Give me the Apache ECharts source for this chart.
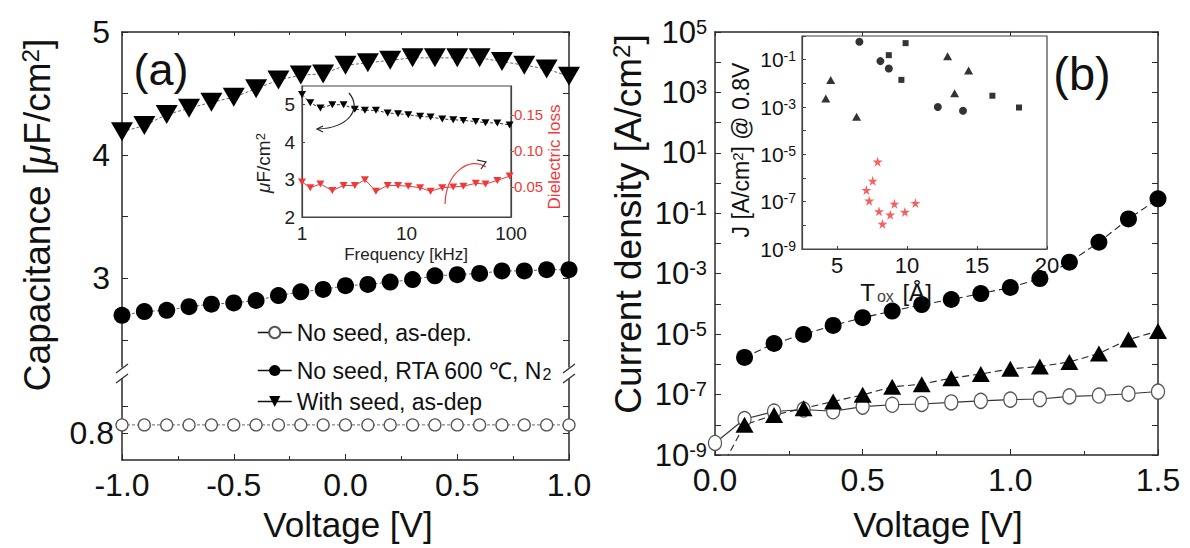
<!DOCTYPE html>
<html><head><meta charset="utf-8">
<script src="https://cdn.jsdelivr.net/npm/echarts@6/dist/echarts.min.js"></script>
<style>html,body{margin:0;padding:0;background:#fff}#c{width:1190px;height:548px}</style>
</head><body><div id="c"></div>
<script>
// ---------- data: panel (a) capacitance vs voltage ----------
const voltageA = [-1.0,-0.9,-0.8,-0.7,-0.6,-0.5,-0.4,-0.3,-0.2,-0.1,0.0,0.1,0.2,0.3,0.4,0.5,0.6,0.7,0.8,0.9,1.0];
const capWithSeed = [4.19,4.24,4.33,4.38,4.43,4.47,4.54,4.61,4.65,4.66,4.73,4.75,4.77,4.79,4.79,4.79,4.79,4.76,4.73,4.70,4.64];
const capRTA = [2.70,2.73,2.74,2.77,2.79,2.80,2.82,2.86,2.89,2.91,2.94,2.95,2.97,2.99,3.02,3.03,3.04,3.06,3.06,3.07,3.07];
const capAsDep = [0.815,0.815,0.815,0.815,0.815,0.815,0.815,0.815,0.815,0.815,0.815,0.815,0.815,0.815,0.815,0.815,0.815,0.815,0.815,0.815,0.815];
const capLabelsA = [3,4,5];
const capLabelsLow = [0.8];
const voltLabelsA = [-1.0,-0.5,0.0,0.5,1.0];

// ---------- data: inset (a) frequency dependence ----------
const freqKHz = [1,1.2,1.5,1.95,2.5,3.2,4,5.1,6.6,8.3,10.4,13.5,17,22,28,35,46,57,74,97];
const capFreq = [5.27,5.05,4.91,5.0,5.0,4.88,4.85,4.85,4.78,4.76,4.73,4.69,4.67,4.62,4.6,4.58,4.55,4.52,4.51,4.46];
const lossFreq = [0.057,0.049,0.054,0.045,0.052,0.052,0.060,0.044,0.052,0.052,0.051,0.049,0.044,0.049,0.050,0.051,0.055,0.054,0.059,0.065];
const insetACapLabels = [2,3,4,5];
const insetALossLabels = [0.05,0.10,0.15];

// ---------- data: panel (b) current density vs voltage ----------
const voltageB = [0.0,0.1,0.2,0.3,0.4,0.5,0.6,0.7,0.8,0.9,1.0,1.1,1.2,1.3,1.4,1.5];
const jRTA = [null,1.7e-6,4.9e-6,9.8e-6,1.95e-5,3.5e-5,5.8e-5,9.5e-5,1.4e-4,2.2e-4,3.5e-4,6.9e-4,2.4e-3,1.1e-2,6.5e-2,0.30];
const jWithSeed = [1.5e-10,1.0e-8,2.1e-8,3.5e-8,5.9e-8,9.8e-8,1.8e-7,2.2e-7,3.5e-7,4.8e-7,7.1e-7,8.5e-7,1.2e-6,2.3e-6,6.6e-6,1.26e-5];
const jAsDep = [2.5e-9,1.55e-8,2.75e-8,3.2e-8,2.8e-8,4.0e-8,4.6e-8,4.9e-8,5.5e-8,6.2e-8,6.8e-8,7.1e-8,8.7e-8,9.3e-8,1.07e-7,1.26e-7];
const jLabelsB = [1e-9,1e-7,1e-5,1e-3,1e-1,1e1,1e3,1e5];
const jTicksB = [1e-9,1e-8,1e-7,1e-6,1e-5,1e-4,1e-3,1e-2,1e-1,1,1e1,1e2,1e3,1e4,1e5];
const voltLabelsB = [0.0,0.5,1.0,1.5];

// ---------- data: inset (b) J @ 0.8V vs Tox ----------
const toxCircle = [6.6,8.1,8.7,12.2,14.0];
const jCircle = [0.57,0.087,0.042,1.0e-3,6.9e-4];
const toxSquare = [9.9,8.7,9.6,16.1,18.0];
const jSquare = [0.5,0.155,0.014,3.0e-3,9.5e-4];
const toxTri = [4.2,4.55,6.4,12.9,14.4,13.4];
const jTri = [2.3e-3,0.014,3.9e-4,0.14,0.035,3.8e-3];
const toxStar = [7.9,7.55,7.1,7.3,8.0,8.25,8.8,9.1,9.85,10.6];
const jStar = [4.9e-6,7.6e-7,3.1e-7,1.1e-7,3.9e-8,1.15e-8,2.8e-8,8.1e-8,3.7e-8,8.7e-8];
const insetBJLabels = [1e-9,1e-7,1e-5,1e-3,1e-1];
const insetBJTicks = [1e-9,1e-8,1e-7,1e-6,1e-5,1e-4,1e-3,1e-2,1e-1,1];
const insetBToxLabels = [5,10,15,20];

// ---------- build ----------
const FONT = "'Liberation Sans', Arial, Helvetica, sans-serif";
const AX = '#2a2a2a';
const RED = '#f03a3a';
const zip = (xs, ys) => xs.map((x, i) => [x, ys[i]]);
const expOf = v => Math.round(Math.log10(v));
const axLine = {show: true, onZero: false, lineStyle: {color: AX, width: 1.5}};
const inLine = {show: true, onZero: false, lineStyle: {color: '#444', width: 1.2}};
const noSplit = {show: false};
const STAR = 'path://M50,0 L61,35 L98,35 L68,57 L79,91 L50,70 L21,91 L32,57 L2,35 L39,35 Z';

const bigSup = {
  b: {fontSize: 31, lineHeight: 31, fontFamily: FONT, color: '#111', padding: [10, 0, 0, 0], verticalAlign: 'bottom'},
  s: {fontSize: 20, lineHeight: 20, fontFamily: FONT, color: '#111', verticalAlign: 'top'}
};
const smallSup = {
  b: {fontSize: 21, lineHeight: 21, fontFamily: FONT, color: '#111', padding: [6, 0, 0, 0], verticalAlign: 'bottom'},
  s: {fontSize: 14, lineHeight: 14, fontFamily: FONT, color: '#111', verticalAlign: 'top'}
};

const option = {
  animation: false,
  backgroundColor: '#fff',
  grid: [
    {left: 122, top: 32, width: 447, height: 335, outerBoundsMode: 'none'},
    {left: 122, top: 379, width: 447, height: 81, outerBoundsMode: 'none'},
    {left: 715, top: 32, width: 443, height: 423, outerBoundsMode: 'none'},
    {left: 302, top: 86, width: 209, height: 131, show: true, borderColor: '#444', borderWidth: 1.2, backgroundColor: 'rgba(0,0,0,0)', outerBoundsMode: 'none'},
    {left: 802, top: 36, width: 245, height: 213, show: true, borderColor: '#444', borderWidth: 1.2, backgroundColor: 'rgba(0,0,0,0)', outerBoundsMode: 'none'}
  ],
  xAxis: [
    {gridIndex: 0, type: 'value', min: -1, max: 1, interval: 0.5, position: 'top',
     axisLine: axLine, axisTick: {show: true, inside: true, length: 4, lineStyle: {color: AX}},
     minorTick: {show: true, splitNumber: 2, length: 3, lineStyle: {color: AX}},
     axisLabel: {show: false}, splitLine: noSplit, minorSplitLine: noSplit},
    {gridIndex: 1, type: 'value', min: -1, max: 1, interval: 0.5, position: 'bottom',
     axisLine: axLine, axisTick: {show: true, inside: true, length: 6, lineStyle: {color: AX}},
     minorTick: {show: true, splitNumber: 2, length: 4, lineStyle: {color: AX}},
     axisLabel: {fontSize: 32, fontFamily: FONT, color: '#111', margin: 9,
       customValues: voltLabelsA, formatter: v => v.toFixed(1)},
     splitLine: noSplit},
    {gridIndex: 2, type: 'value', min: 0, max: 1.5, interval: 0.5, position: 'bottom',
     axisLine: axLine, axisTick: {show: true, inside: true, length: 6, lineStyle: {color: AX}},
     minorTick: {show: true, splitNumber: 2, length: 4, lineStyle: {color: AX}},
     axisLabel: {fontSize: 32, fontFamily: FONT, color: '#111', margin: 9,
       customValues: voltLabelsB, formatter: v => v.toFixed(1)},
     splitLine: noSplit},
    {gridIndex: 2, type: 'value', min: 0, max: 1.5, interval: 0.5, position: 'top',
     axisLine: axLine, axisTick: {show: true, inside: true, length: 4, lineStyle: {color: AX}},
     axisLabel: {show: false}, splitLine: noSplit},
    {gridIndex: 3, type: 'log', logBase: 10, min: 1, max: 100, position: 'bottom',
     axisLine: inLine, axisTick: {show: false},
     axisLabel: {fontSize: 19, fontFamily: FONT, color: '#222', margin: 7}, splitLine: noSplit},
    {gridIndex: 4, type: 'value', min: 2.5, max: 20, position: 'bottom',
     axisLine: inLine,
     axisTick: {show: true, inside: true, length: 3, customValues: insetBToxLabels, lineStyle: {color: '#444'}},
     axisLabel: {fontSize: 22, fontFamily: FONT, color: '#111', margin: 5, customValues: insetBToxLabels},
     splitLine: noSplit}
  ],
  yAxis: [
    {gridIndex: 0, type: 'value', min: 2.28, max: 5, position: 'left',
     axisLine: axLine, axisTick: {show: true, inside: true, length: 6, customValues: [2.5,3,3.5,4,4.5,5], lineStyle: {color: AX}},
     axisLabel: {fontSize: 32, fontFamily: FONT, color: '#111', margin: 12, customValues: capLabelsA},
     splitLine: noSplit},
    {gridIndex: 0, type: 'value', min: 2.28, max: 5, position: 'right',
     axisLine: axLine, axisTick: {show: true, inside: true, length: 6, customValues: [2.5,3,3.5,4,4.5,5], lineStyle: {color: AX}},
     axisLabel: {show: false}, splitLine: noSplit},
    {gridIndex: 1, type: 'value', min: 0.75, max: 0.9, position: 'left',
     axisLine: axLine, axisTick: {show: true, inside: true, length: 6, customValues: [0.8, 0.85], lineStyle: {color: AX}},
     axisLabel: {fontSize: 32, fontFamily: FONT, color: '#111', margin: 8, customValues: capLabelsLow, formatter: v => v.toFixed(1)},
     splitLine: noSplit},
    {gridIndex: 1, type: 'value', min: 0.75, max: 0.9, position: 'right',
     axisLine: axLine, axisTick: {show: true, inside: true, length: 6, customValues: [0.8, 0.85], lineStyle: {color: AX}},
     axisLabel: {show: false}, splitLine: noSplit},
    {gridIndex: 2, type: 'log', logBase: 10, min: 1e-9, max: 1e5, position: 'left',
     axisLine: axLine, axisTick: {show: true, inside: true, length: 6, customValues: jTicksB, lineStyle: {color: AX}},
     axisLabel: {margin: 8, customValues: jLabelsB, formatter: v => '{b|10}{s|' + expOf(v) + '}', rich: bigSup},
     splitLine: noSplit},
    {gridIndex: 2, type: 'log', logBase: 10, min: 1e-9, max: 1e5, position: 'right',
     axisLine: axLine, axisTick: {show: true, inside: true, length: 6, customValues: jTicksB, lineStyle: {color: AX}},
     axisLabel: {show: false}, splitLine: noSplit},
    {gridIndex: 3, type: 'value', min: 2, max: 5.5, position: 'left',
     axisLine: inLine,
     axisTick: {show: true, inside: true, length: 3, customValues: insetACapLabels, lineStyle: {color: '#444'}},
     axisLabel: {fontSize: 19, fontFamily: FONT, color: '#222', margin: 7, customValues: insetACapLabels},
     splitLine: noSplit},
    {gridIndex: 3, type: 'value', min: 0.0083, max: 0.19, position: 'right',
     axisLine: inLine,
     axisTick: {show: true, inside: false, length: 3, customValues: insetALossLabels, lineStyle: {color: RED}},
     axisLabel: {fontSize: 15, fontFamily: FONT, color: RED, margin: 3, customValues: insetALossLabels, formatter: v => v.toFixed(2)},
     splitLine: noSplit},
    {gridIndex: 4, type: 'log', logBase: 10, min: 1e-9, max: 1, position: 'left',
     axisLine: inLine,
     axisTick: {show: true, inside: true, length: 4, customValues: insetBJTicks, lineStyle: {color: '#444'}},
     axisLabel: {margin: 6, customValues: insetBJLabels, formatter: v => '{b|10}{s|' + expOf(v) + '}', rich: smallSup},
     splitLine: noSplit}
  ],
  legend: {
    orient: 'vertical', left: 252, top: 316, itemWidth: 34, itemHeight: 14, itemGap: 8,
    selectedMode: false,
    data: ['No seed, as-dep.', 'No seed, RTA 600 ℃, N2', 'With seed, as-dep'],
    formatter: name => name.replace('N2', 'N{sub|2}'),
    lineStyle: {type: 'solid', color: '#111', width: 1.5},
    textStyle: {fontSize: 23, fontFamily: FONT, color: '#111',
      rich: {sub: {fontSize: 16, lineHeight: 16, fontFamily: FONT, color: '#111', padding: [14, 0, 0, 0], verticalAlign: 'bottom'}}}
  },
  series: [
    {name: 'No seed, as-dep.', type: 'line', xAxisIndex: 1, yAxisIndex: 2, data: zip(voltageA, capAsDep),
     symbol: 'circle', symbolSize: 12, itemStyle: {color: '#fff', borderColor: '#555', borderWidth: 1.3},
     lineStyle: {color: '#666', width: 1, type: [3, 2]}, z: 3},
    {name: 'No seed, RTA 600 ℃, N2', type: 'line', xAxisIndex: 0, yAxisIndex: 0, data: zip(voltageA, capRTA),
     symbol: 'circle', symbolSize: 17, itemStyle: {color: '#000'},
     lineStyle: {color: '#666', width: 1, type: [3, 2]}, z: 3},
    {name: 'With seed, as-dep', type: 'line', xAxisIndex: 0, yAxisIndex: 0, data: zip(voltageA, capWithSeed),
     symbol: 'triangle', symbolRotate: 180, symbolSize: [22, 19], itemStyle: {color: '#000'},
     lineStyle: {color: '#666', width: 1, type: [3, 2]}, z: 3},

    {name: 'J as-dep', type: 'line', xAxisIndex: 2, yAxisIndex: 4, data: zip(voltageB, jAsDep),
     symbol: 'circle', symbolSize: [13, 15], itemStyle: {color: '#fff', borderColor: '#555', borderWidth: 1.3},
     lineStyle: {color: '#333', width: 1.1}, z: 3},
    {name: 'J with seed', type: 'line', xAxisIndex: 2, yAxisIndex: 4, data: zip(voltageB, jWithSeed),
     symbol: 'triangle', symbolSize: [18, 16], itemStyle: {color: '#000'},
     lineStyle: {color: '#222', width: 1.1, type: [7, 4]}, z: 3},
    {name: 'J RTA', type: 'line', xAxisIndex: 2, yAxisIndex: 4, data: zip(voltageB, jRTA),
     symbol: 'circle', symbolSize: 17, itemStyle: {color: '#000'},
     lineStyle: {color: '#222', width: 1.1, type: [7, 4]}, z: 3},

    {name: 'C(f)', type: 'line', xAxisIndex: 4, yAxisIndex: 6, data: zip(freqKHz, capFreq),
     symbol: 'triangle', symbolRotate: 180, symbolSize: [8, 7], itemStyle: {color: '#000'},
     lineStyle: {color: '#333', width: 1, type: [3, 2]}, z: 4},
    {name: 'loss(f)', type: 'line', xAxisIndex: 4, yAxisIndex: 7, data: zip(freqKHz, lossFreq),
     symbol: 'triangle', symbolRotate: 180, symbolSize: [8, 7], itemStyle: {color: RED},
     lineStyle: {color: RED, width: 1}, z: 4},

    {name: 'ref circles', type: 'scatter', xAxisIndex: 5, yAxisIndex: 8, data: zip(toxCircle, jCircle),
     symbol: 'circle', symbolSize: 8, itemStyle: {color: '#000'}, z: 4},
    {name: 'ref squares', type: 'scatter', xAxisIndex: 5, yAxisIndex: 8, data: zip(toxSquare, jSquare),
     symbol: 'rect', symbolSize: 6, itemStyle: {color: '#000'}, z: 4},
    {name: 'ref triangles', type: 'scatter', xAxisIndex: 5, yAxisIndex: 8, data: zip(toxTri, jTri),
     symbol: 'triangle', symbolSize: [9, 8], itemStyle: {color: '#000'}, z: 4},
    {name: 'this work', type: 'scatter', xAxisIndex: 5, yAxisIndex: 8, data: zip(toxStar, jStar),
     symbol: STAR, symbolSize: 10, itemStyle: {color: RED}, z: 4}
  ],
  graphic: [
    {type: 'text', x: 37, y: 215, rotation: Math.PI / 2, z: 10,
     style: {text: 'Capacitance [{mu|μ}F/cm{sup|2}]', fontSize: 37, fontFamily: FONT, fill: '#111', align: 'center', verticalAlign: 'middle',
       rich: {mu: {fontSize: 37, fontFamily: FONT, fontStyle: 'italic', fill: '#111'},
              sup: {fontSize: 24, fontFamily: FONT, fill: '#111', verticalAlign: 'top', lineHeight: 24}}}},
    {type: 'text', x: 628, y: 224, rotation: Math.PI / 2, z: 10,
     style: {text: 'Current density [A/cm{sup|2}]', fontSize: 37, fontFamily: FONT, fill: '#111', align: 'center', verticalAlign: 'middle',
       rich: {sup: {fontSize: 24, fontFamily: FONT, fill: '#111', verticalAlign: 'top', lineHeight: 24}}}},
    {type: 'text', x: 348, y: 524, z: 10,
     style: {text: 'Voltage [V]', fontSize: 35, fontFamily: FONT, fill: '#111', align: 'center', verticalAlign: 'middle'}},
    {type: 'text', x: 938, y: 524, z: 10,
     style: {text: 'Voltage [V]', fontSize: 35, fontFamily: FONT, fill: '#111', align: 'center', verticalAlign: 'middle'}},
    {type: 'text', x: 161, y: 69, z: 10,
     style: {text: '(a)', fontSize: 45, fontFamily: FONT, fill: '#111', align: 'center', verticalAlign: 'middle'}},
    {type: 'text', x: 1082, y: 73, z: 10,
     style: {text: '(b)', fontSize: 47, fontFamily: FONT, fill: '#111', align: 'center', verticalAlign: 'middle'}},
    {type: 'text', x: 406, y: 254, z: 10,
     style: {text: 'Frequency [kHz]', fontSize: 17, fontFamily: FONT, fill: '#222', align: 'center', verticalAlign: 'middle'}},
    {type: 'text', x: 263, y: 163, rotation: Math.PI / 2, z: 10,
     style: {text: '{mu|μ}F/cm{sup|2}', fontSize: 19, fontFamily: FONT, fill: '#222', align: 'center', verticalAlign: 'middle',
       rich: {mu: {fontSize: 19, fontFamily: FONT, fontStyle: 'italic', fill: '#222'},
              sup: {fontSize: 13, fontFamily: FONT, fill: '#222', verticalAlign: 'top', lineHeight: 13}}}},
    {type: 'text', x: 554, y: 157, rotation: Math.PI / 2, z: 10,
     style: {text: 'Dielectric loss', fontSize: 17, fontFamily: FONT, fill: RED, align: 'center', verticalAlign: 'middle'}},
    {type: 'text', x: 741, y: 150, rotation: Math.PI / 2, z: 10,
     style: {text: 'J [A/cm{sup|2}] @ 0.8V', fontSize: 23, fontFamily: FONT, fill: '#111', align: 'center', verticalAlign: 'middle',
       rich: {sup: {fontSize: 15, fontFamily: FONT, fill: '#111', verticalAlign: 'top', lineHeight: 15}}}},
    {type: 'text', x: 896, y: 292, z: 10,
     style: {text: 'T{sub|ox} [Å]', fontSize: 24, fontFamily: FONT, fill: '#111', align: 'center', verticalAlign: 'middle',
       rich: {sub: {fontSize: 16, fontFamily: FONT, fill: '#444', verticalAlign: 'bottom', lineHeight: 16, padding: [12, 2, 0, 2]}}}},
    // inset (a) arrows
    {type: 'bezierCurve', z: 10, shape: {x1: 349, y1: 93, cpx1: 362, cpy1: 108, cpx2: 350, cpy2: 128, x2: 317, y2: 129},
     style: {stroke: '#222', lineWidth: 1.2, fill: null}},
    {type: 'polyline', z: 10, shape: {points: [[323, 126], [317, 129], [323, 132]]}, style: {stroke: '#222', lineWidth: 1.2, fill: null}},
    {type: 'bezierCurve', z: 10, shape: {x1: 445, y1: 204, cpx1: 446, cpy1: 172, cpx2: 470, cpy2: 156, x2: 486, y2: 167},
     style: {stroke: RED, lineWidth: 1.2, fill: null}},
    {type: 'polyline', z: 10, shape: {points: [[477, 160], [486, 162], [481, 169]]}, style: {stroke: '#222', lineWidth: 1.2, fill: null}},
    // axis break marks
    {type: 'line', z: 10, shape: {x1: 116, y1: 373, x2: 128, y2: 364}, style: {stroke: '#333', lineWidth: 1.3}},
    {type: 'line', z: 10, shape: {x1: 116, y1: 383, x2: 128, y2: 374}, style: {stroke: '#333', lineWidth: 1.3}},
    {type: 'line', z: 10, shape: {x1: 563, y1: 373, x2: 575, y2: 364}, style: {stroke: '#333', lineWidth: 1.3}},
    {type: 'line', z: 10, shape: {x1: 563, y1: 383, x2: 575, y2: 374}, style: {stroke: '#333', lineWidth: 1.3}}
  ]
};

const chart = echarts.init(document.getElementById('c'), null, {renderer: 'svg', width: 1190, height: 548});
chart.setOption(option);
</script></body></html>
